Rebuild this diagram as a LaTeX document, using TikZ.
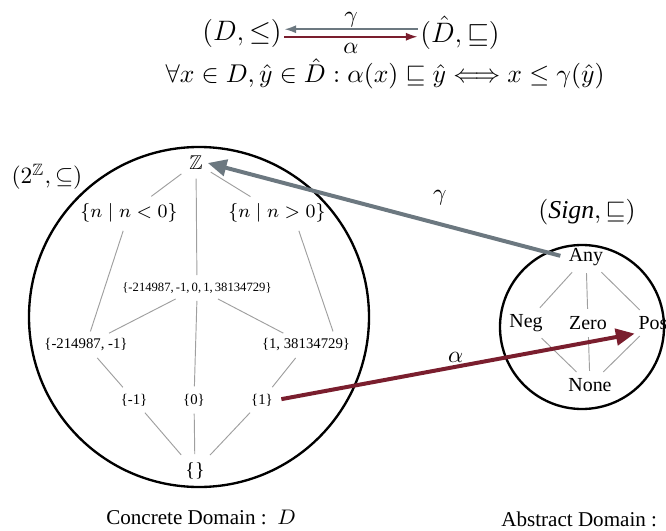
\documentclass[tikz,border=0pt]{standalone}
\usepackage{fontspec}
\setmainfont{Liberation Serif}
\usepackage{amssymb}
\usetikzlibrary{arrows.meta}
\definecolor{gamgray}{RGB}{108,120,128}
\definecolor{alpred}{RGB}{122,30,46}

\begin{document}
\begin{tikzpicture}[x=0.015cm, y=-0.015cm,
      elt/.style={font=\fontsize{6.3}{8}\selectfont, inner sep=1.5pt},
      sub/.style={font=\fontsize{8.5}{10}\selectfont, inner sep=2pt},
      sgn/.style={font=\fontsize{8.5}{10}\selectfont, inner sep=1.5pt},
      domcap/.style={font=\fontsize{9}{11}\selectfont},
      edg/.style={draw, gray!75, line width=0.4pt, shorten <=1.5pt,
      shorten >=1.5pt},
      dom/.style={circle, draw, line width=1pt},
      marr/.style={line width=1.7pt, shorten <=2pt,
      -{Triangle[length=8pt,width=7pt]}},
      farr/.style={line width=0.8pt, -{Latex[length=5pt,width=3.5pt]}}
    ]
    \useasboundingbox (0,0) rectangle (666,531);
    % === Top: Galois connection ===
    \node[font=\large, inner sep=1pt] (dl) at (242,33) {$(D,\leq)$};
    \node[font=\large, inner sep=1pt] (dr) at (460,33)
    {$(\hat{D},\sqsubseteq)$};
    \draw[farr, gamgray] ([yshift=1.6pt]dr.west) --
    node[above=-3pt, black] {$\gamma$} ([yshift=1.6pt]dl.east);
    \draw[farr, alpred] ([yshift=-1.6pt]dl.east) --
    node[below=1.5pt, inner sep=1pt, black] {$\alpha$}
    ([yshift=-1.6pt]dr.west);
    \node[font=\fontsize{11.2}{13}\selectfont, inner sep=1pt] (law)
    at (385,74) {$\forall x\in D, \hat{y}\in\hat{D} : \alpha(x)\sqsubseteq
      \hat{y}\Longleftrightarrow x\leq\gamma(\hat{y})$};
    % === Concrete domain ===
    \node[dom, minimum size=5.1cm] (cdom) at (199,317) {};
    \node (pset) at (47,177) {$(2^{\mathbb{Z}},\subseteq)$};
    \node[sub] (zz) at (196,163) {$\mathbb{Z}$};
    \node[sub] (nneg) at (129,213) {$\{n\mid n<0\}$};
    \node[sub] (npos) at (277,213) {$\{n\mid n>0\}$};
    \node[elt, font=\fontsize{5.4}{7}\selectfont] (sall) at (197,288)
    {\{-214987,\,-1,\,0,\,1,\,38134729\}};
    \node[elt] (sneg) at (86,345) {\{-214987, -1\}};
    \node[elt] (spos) at (306,345) {\{1, 38134729\}};
    \node[elt] (mone) at (134,400) {\{-1\}};
    \node[elt] (zero) at (194,400) {\{0\}};
    \node[elt] (one) at (262,400) {\{1\}};
    \node[sub] (empty) at (195,471) {\{\}};
    \draw[edg] (zz) -- (nneg);
    \draw[edg] (zz) -- (npos);
    \draw[edg] (zz) -- (sall);
    \draw[edg] (nneg) -- (sneg);
    \draw[edg] (npos.-35) -- (spos.20);
    \draw[edg] (sall) -- (sneg);
    \draw[edg] (sall.south) -- (zero);
    \draw[edg] (sall) -- (spos);
    \draw[edg] (sneg) -- (mone);
    \draw[edg] (spos) -- (one);
    \draw[edg] (mone) -- (empty);
    \draw[edg] (zero) -- (empty);
    \draw[edg] (one) -- (empty);
    \node[domcap] (ccap) at (201,517) {Concrete Domain :\ \ $D$};
    % === Abstract domain ===
    \node[dom, minimum size=2.46cm] (adom) at (582,327) {};
    \node[font=\fontsize{11}{13}\selectfont] (sign) at (587,212)
    {$(\mathit{Sign},\sqsubseteq)$};
    \node[sgn] (any) at (586,257) {Any};
    \node[sgn] (neg) at (526,323) {Neg};
    \node[sgn] (zer) at (588,323) {Zero};
    \node[sgn] (pos) at (653,323) {Pos};
    \node[sgn] (none) at (590,385) {None};
    \draw[edg] (any) -- (neg);
    \draw[edg] (any) -- (zer);
    \draw[edg] (any) -- (pos);
    \draw[edg] (neg) -- (none);
    \draw[edg] (zer) -- (none);
    \draw[edg] (pos) -- (none);
    \node[domcap, anchor=west] (acap) at (493,517)
    {Abstract Domain :\ \ $\hat{D}$};
    % === Abstraction / concretisation ===
    \draw[marr, gamgray] (any.west) --
    node[pos=0.35, above=4pt, black] {$\gamma$} (zz.east);
    \draw[marr, alpred] (one.east) --
    node[midway, above, inner sep=1pt, black] {$\alpha$} (pos.south west);
  \end{tikzpicture}
\end{document}
